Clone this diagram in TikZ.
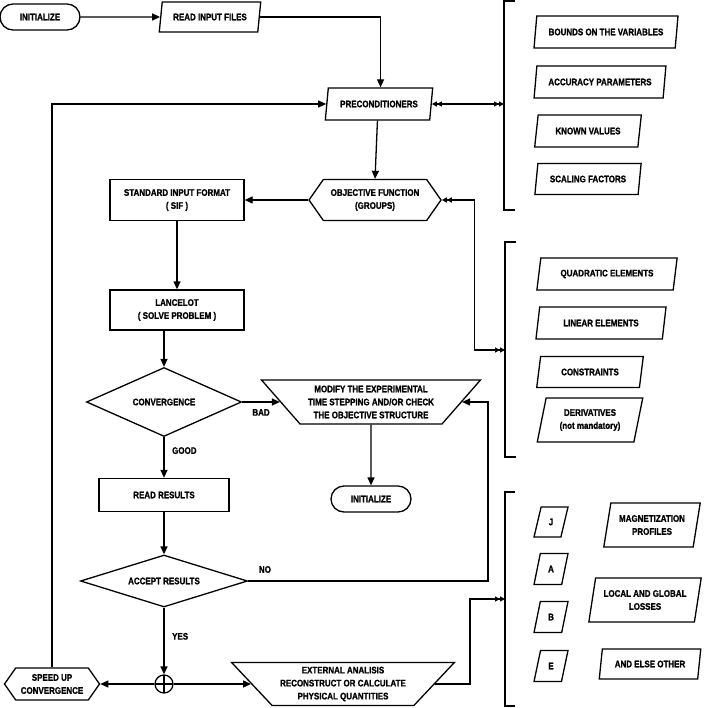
\documentclass[tikz,border=0pt]{standalone}
\usepackage{fontspec}
\setmainfont{Liberation Sans}[FakeStretch=0.84,
  BoldFont={Liberation Sans Bold}, BoldFeatures={FakeStretch=0.84,FakeBold=1.2}]
\usetikzlibrary{arrows.meta, shapes.geometric, shapes.symbols}

\begin{document}
\begin{tikzpicture}[
  x=1pt,y=-1pt,
  every node/.style={font=\bfseries\fontsize{9.5}{13}\selectfont},
  T/.style={draw,line width=1.3pt,rounded corners=13pt,
            minimum width=80pt,minimum height=26pt},
  IO/.style={draw,line width=1.3pt,trapezium,trapezium stretches=true,
             trapezium left angle=75,trapezium right angle=105,
             align=center,inner sep=1pt},
  PR/.style={draw,line width=1.3pt,align=center,minimum width=134pt},
  D/.style={draw,line width=1.3pt,diamond,inner sep=0pt},
  H/.style={draw,line width=1.3pt,signal,signal to=west and east,
            signal pointer angle=110,align=center,inner sep=1pt},
  MO/.style={draw,line width=1.3pt,trapezium,trapezium stretches=true,
             trapezium left angle=135,trapezium right angle=135,
             align=center,inner sep=1pt},
  X/.style={draw,line width=1.3pt,circle,minimum size=18pt,inner sep=0pt,
            path picture={\draw[line width=1.3pt]
              (path picture bounding box.north) -- (path picture bounding box.south)
              (path picture bounding box.west) -- (path picture bounding box.east);}},
  ar/.style={-{Triangle[length=8pt,width=7pt]},line width=1.3pt},
  dar/.style={{Triangle[length=5pt,width=5pt]Triangle[length=5pt,width=5pt]}-%
              {Triangle[length=5pt,width=5pt]Triangle[length=5pt,width=5pt]},
              line width=1.3pt},
  rar/.style={-{Triangle[length=5pt,width=5pt]Triangle[length=5pt,width=5pt]},
              line width=1.3pt},
  br/.style={line width=1.3pt},
  lb/.style={inner sep=1.5pt}
]
\useasboundingbox (0,0) rectangle (708,708);

% main column
\node[T] (init) at (40,17) {INITIALIZE};
\node[IO,minimum width=102pt,minimum height=30pt] (rif) at (210,17) {READ INPUT FILES};
\node[IO,minimum width=108pt,minimum height=32pt] (pre) at (379,104) {PRECONDITIONERS};
\node[H,minimum width=132pt,minimum height=41pt] (obj) at (375,200)
      {OBJECTIVE FUNCTION\\(GROUPS)};
\node[PR,minimum height=41pt] (sif) at (177,200) {STANDARD INPUT FORMAT\\( SIF )};
\node[PR,minimum height=40pt] (lanc) at (177,310) {LANCELOT\\( SOLVE PROBLEM )};
\node[D,minimum width=155pt,minimum height=69pt,aspect=2.25] (conv) at (164,402)
      {CONVERGENCE};
\node[MO,minimum width=219pt,minimum height=44pt] (mod) at (371,402)
      {MODIFY THE EXPERIMENTAL\\TIME STEPPING AND/OR CHECK\\THE OBJECTIVE STRUCTURE};
\node[T] (init2) at (371,499) {INITIALIZE};
\node[PR,minimum width=130pt,minimum height=33pt] (rr) at (164,495) {READ RESULTS};
\node[D,minimum width=167pt,minimum height=52pt,aspect=3.2] (acc) at (164,581)
      {ACCEPT RESULTS};
\node[X] (jn) at (164,684) {};
\node[H,minimum width=95pt,minimum height=32pt] (su) at (52,684) {SPEED UP\\CONVERGENCE};
\node[MO,minimum width=223pt,minimum height=43pt] (ext) at (343,684)
      {EXTERNAL ANALISIS\\RECONSTRUCT OR CALCULATE\\PHYSICAL QUANTITIES};

% bracket 1
\draw[br] (515,1) -- (504,1) -- (504,210) -- (515,210);
\coordinate (brA) at (504,104);
\node[IO,minimum width=144pt,minimum height=32pt] (bnd) at (606,32) {BOUNDS ON THE VARIABLES};
\node[IO,minimum width=132pt,minimum height=32pt] (acp) at (600,82) {ACCURACY PARAMETERS};
\node[IO,minimum width=107pt,minimum height=32pt] (knv) at (588,131) {KNOWN VALUES};
\node[IO,minimum width=107pt,minimum height=31pt] (scf) at (588,179) {SCALING FACTORS};

% bracket 2
\draw[br] (516,242) -- (505,242) -- (505,457) -- (516,457);
\coordinate (brB) at (505,350);
\node[IO,minimum width=141pt,minimum height=32pt] (qel) at (607,274) {QUADRATIC ELEMENTS};
\node[IO,minimum width=131pt,minimum height=32pt] (lel) at (601,323) {LINEAR ELEMENTS};
\node[IO,minimum width=107pt,minimum height=31pt] (cns) at (590,372) {CONSTRAINTS};
\node[IO,minimum width=106pt,minimum height=44pt] (der) at (590,420)
      {DERIVATIVES\\(not mandatory)};

% bracket 3
\draw[br] (515,492) -- (505,492) -- (505,706) -- (515,706);
\coordinate (brC) at (505,599);
\node[IO,minimum width=34pt,minimum height=30pt] (qJ) at (551,522) {J};
\node[IO,minimum width=34pt,minimum height=31pt] (qA) at (551,569) {A};
\node[IO,minimum width=34pt,minimum height=31pt] (qB) at (551,617) {B};
\node[IO,minimum width=34pt,minimum height=31pt] (qE) at (551,666) {E};
\node[IO,minimum width=97pt,minimum height=44pt] (mag) at (652,525)
      {MAGNETIZATION\\PROFILES};
\node[IO,minimum width=113pt,minimum height=44pt] (los) at (645,600)
      {LOCAL AND GLOBAL\\LOSSES};
\node[IO,minimum width=102pt,minimum height=30pt] (oth) at (650,664) {AND ELSE OTHER};

% connectors
\draw[ar] (init) -- (rif);
\draw[ar] (rif.right side) -| (pre.top side);
\draw[dar] (pre.right side) -- (pre.right side -| brA);
\draw[ar] (pre.bottom side) -- (obj.north);
\draw[ar] (obj.west) -- (sif.east);
\draw[dar] (obj.east) -- ++(33,0) |- (brB);
\draw[ar] (sif.south) -- (lanc.north);
\draw[ar] (lanc.south -| conv.north) -- (conv.north);
\draw[ar] (conv.east) -- (mod.left side) node[midway,below=5pt,lb]{BAD};
\draw[ar] (mod.south) -- (init2.north);
\draw[ar] (conv.south) -- (rr.north) node[pos=0.33,right=6pt,lb]{GOOD};
\draw[ar] (rr.south) -- (acc.north);
\draw[ar] (acc.east) -| node[pos=0.035,above=6pt,lb]{NO}
      ([xshift=26pt]mod.right side) -- (mod.right side);
\draw[ar] (acc.south) -- (jn.north) node[pos=0.43,right=6pt,lb]{YES};
\draw[ar] (jn.west) -- (su.east);
\draw[ar] (jn.east) -- (ext.left side);
\draw[ar] (su.north) |- (pre.left side);
\draw[rar] (ext.right side) -- ++(35,0) |- (brC);

\end{tikzpicture}
\end{document}
